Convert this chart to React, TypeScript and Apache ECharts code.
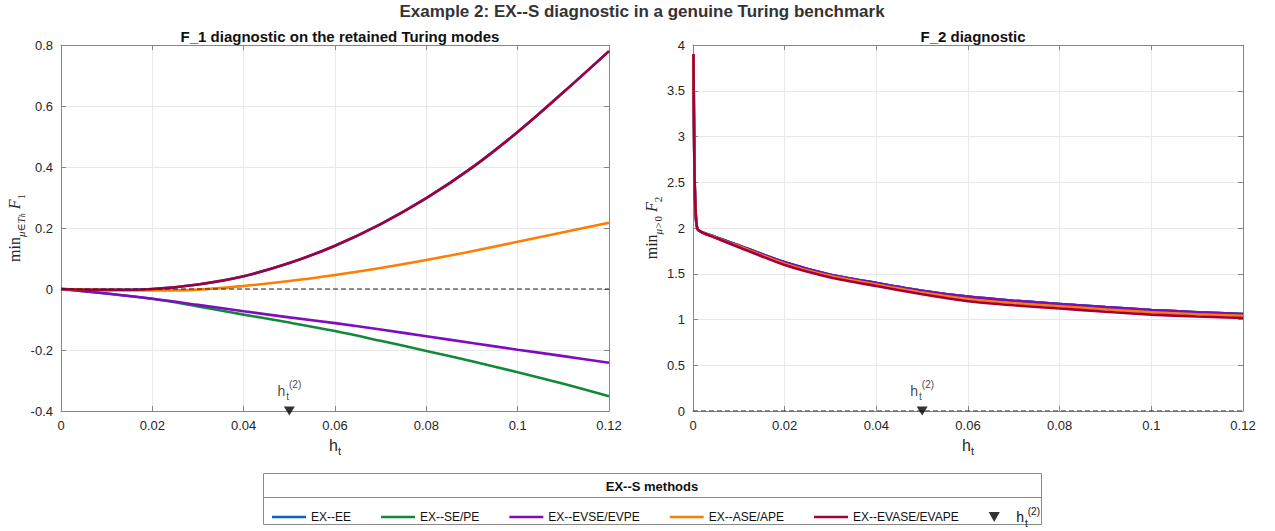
import React, { useEffect, useRef } from 'react';
import * as echarts from 'echarts';

// ---------- data ----------
const methodNames = ['EX--EE', 'EX--SE/PE', 'EX--EVSE/EVPE', 'EX--ASE/APE', 'EX--EVASE/EVAPE'];
const methodColors = ['#0a5fd6', '#12893a', '#7e0cc0', '#ff7d00', '#a2003c'];

const hLeft = [0, 0.01, 0.02, 0.03, 0.04, 0.05, 0.06, 0.07, 0.08, 0.09, 0.1, 0.11, 0.12];
const f1EE = [0, -0.003, 0.0, 0.015, 0.042, 0.085, 0.142, 0.213, 0.298, 0.398, 0.515, 0.645, 0.78];
const f1SE = [0, -0.015, -0.032, -0.057, -0.084, -0.11, -0.138, -0.17, -0.203, -0.237, -0.273, -0.311, -0.352];
const f1EVSE = [0, -0.015, -0.032, -0.052, -0.073, -0.093, -0.112, -0.133, -0.155, -0.177, -0.199, -0.22, -0.242];
const f1ASE = [0, -0.003, -0.005, -0.002, 0.01, 0.026, 0.046, 0.069, 0.095, 0.124, 0.155, 0.186, 0.217];
const f1EVASE = [0, -0.003, 0.0, 0.015, 0.042, 0.085, 0.142, 0.213, 0.298, 0.398, 0.515, 0.645, 0.78];

const hRight = [0.0001, 0.0003, 0.0006, 0.0011, 0.005, 0.01, 0.02, 0.03, 0.04, 0.05, 0.06, 0.07, 0.08, 0.09, 0.1, 0.11, 0.12];
const f2EE = [3.9, 2.7, 2.15, 1.98, 1.9, 1.81, 1.625, 1.49, 1.4, 1.315, 1.25, 1.205, 1.17, 1.135, 1.104, 1.08, 1.06];
const f2SE = [3.9, 2.7, 2.15, 1.98, 1.9, 1.81, 1.625, 1.49, 1.4, 1.315, 1.25, 1.205, 1.17, 1.135, 1.104, 1.08, 1.06];
const f2EVSE = [3.9, 2.7, 2.15, 1.98, 1.9, 1.81, 1.625, 1.49, 1.4, 1.315, 1.25, 1.205, 1.17, 1.135, 1.104, 1.08, 1.06];
const f2ASE = [3.9, 2.7, 2.15, 1.98, 1.895, 1.8, 1.61, 1.475, 1.383, 1.295, 1.224, 1.178, 1.144, 1.11, 1.08, 1.058, 1.04];
const f2EVASE = [3.9, 2.7, 2.15, 1.98, 1.89, 1.79, 1.595, 1.46, 1.366, 1.275, 1.2, 1.155, 1.12, 1.085, 1.053, 1.032, 1.016];

const zeroLineX = [0, 0.12];
const markerH = 0.05;
const markerName = 'ht2';

const leftSeries = [f1EE, f1SE, f1EVSE, f1ASE, f1EVASE];
const rightSeries = [f2EE, f2SE, f2EVSE, f2ASE, f2EVASE];

const FONT = 'Liberation Sans, Arial, Helvetica, sans-serif';
const SERIF = 'Liberation Serif, DejaVu Serif, serif';
const AXIS_COLOR = '#868686';
const GRID_COLOR = '#e8e8e8';
const TEXT_COLOR = '#262626';

const fmt = (v: number) => String(Math.round(v * 1000) / 1000);

const hRich = {
  h: { fontSize: 14, fontFamily: FONT, color: '#111', verticalAlign: 'middle', lineHeight: 22 },
  sub: { fontSize: 10, fontFamily: FONT, color: '#111', verticalAlign: 'bottom', lineHeight: 22, padding: [0, 0, 0, 1] },
  sup: { fontSize: 10, fontFamily: FONT, color: '#111', verticalAlign: 'top', lineHeight: 22 },
};
const hLabel = '{h|h}{sub|t}{sup|(2)}';

function pairs(xs: number[], ys: number[]) {
  return xs.map((x, i) => [x, ys[i]]);
}

function xAxes(gridIndex: number) {
  return [
    {
      type: 'value', gridIndex, min: 0, max: 0.12, interval: 0.02, position: 'bottom',
      name: '{h|h}{t|t}', nameLocation: 'middle', nameGap: 23,
      nameTextStyle: {
        rich: {
          h: { fontSize: 16, fontFamily: FONT, color: TEXT_COLOR, verticalAlign: 'middle', lineHeight: 22 },
          t: { fontSize: 11, fontFamily: FONT, color: TEXT_COLOR, verticalAlign: 'bottom', lineHeight: 22 },
        },
      },
      axisLine: { show: true, onZero: false, lineStyle: { color: AXIS_COLOR } },
      axisTick: { show: true, inside: true, length: 5, lineStyle: { color: AXIS_COLOR } },
      axisLabel: { fontSize: 13, fontFamily: FONT, color: TEXT_COLOR, margin: 8, formatter: fmt },
      splitLine: { show: true, lineStyle: { color: GRID_COLOR } },
    },
    {
      type: 'value', gridIndex, min: 0, max: 0.12, interval: 0.02, position: 'top',
      axisLine: { show: true, onZero: false, lineStyle: { color: AXIS_COLOR } },
      axisTick: { show: true, inside: true, length: 5, lineStyle: { color: AXIS_COLOR } },
      axisLabel: { show: false },
      splitLine: { show: false },
    },
  ];
}

function yAxes(gridIndex: number, min: number, max: number, interval: number, name: string, rich: any, nameGap: number) {
  return [
    {
      type: 'value', gridIndex, min, max, interval, position: 'left',
      name, nameLocation: 'middle', nameRotate: 90, nameGap,
      nameTextStyle: { rich },
      axisLine: { show: true, onZero: false, lineStyle: { color: AXIS_COLOR } },
      axisTick: { show: true, inside: true, length: 5, lineStyle: { color: AXIS_COLOR } },
      axisLabel: { fontSize: 13, fontFamily: FONT, color: TEXT_COLOR, margin: 8, formatter: fmt },
      splitLine: { show: true, lineStyle: { color: GRID_COLOR } },
    },
    {
      type: 'value', gridIndex, min, max, interval, position: 'right',
      axisLine: { show: true, onZero: false, lineStyle: { color: AXIS_COLOR } },
      axisTick: { show: true, inside: true, length: 5, lineStyle: { color: AXIS_COLOR } },
      axisLabel: { show: false },
      splitLine: { show: false },
    },
  ];
}

const mathRich = {
  m: { fontSize: 16, fontFamily: SERIF, color: TEXT_COLOR, verticalAlign: 'middle', lineHeight: 24 },
  s: { fontSize: 11, fontFamily: SERIF, fontStyle: 'italic', color: TEXT_COLOR, verticalAlign: 'bottom', lineHeight: 24 },
  ss: { fontSize: 8, fontFamily: SERIF, fontStyle: 'italic', color: TEXT_COLOR, verticalAlign: 'bottom', lineHeight: 22 },
  sn: { fontSize: 11, fontFamily: SERIF, color: TEXT_COLOR, verticalAlign: 'bottom', lineHeight: 24 },
  f: { fontSize: 16, fontFamily: SERIF, fontStyle: 'italic', color: TEXT_COLOR, verticalAlign: 'middle', lineHeight: 24, padding: [0, 0, 0, 4] },
};

const LINE_ICON = 'path://M0,0L40,0L40,3L0,3Z';
const TRI_ICON = 'path://M0,0L10,0L5,9Z';

function buildOption() {
  const series: any[] = [];
  const grids = [
    { xs: hLeft, ys: leftSeries, markerY: -0.4, smooth: 0.35 },
    { xs: hRight, ys: rightSeries, markerY: 0, smooth: 0.2 },
  ];
  grids.forEach((g, gi) => {
    g.ys.forEach((vals, i) => {
      series.push({
        type: 'line', name: methodNames[i], xAxisIndex: gi * 2, yAxisIndex: gi * 2,
        data: pairs(g.xs, vals), symbol: 'none', showSymbol: false,
        smooth: g.smooth,
        lineStyle: { width: 2.6, color: methodColors[i] }, itemStyle: { color: methodColors[i] },
        z: 2 + i,
      });
    });
    series.push({
      type: 'line', name: 'zero', xAxisIndex: gi * 2, yAxisIndex: gi * 2,
      data: zeroLineX.map((x) => [x, 0]), symbol: 'none', silent: true,
      lineStyle: { width: 1, color: '#222', type: [5, 3] }, z: 9,
    });
    series.push({
      type: 'scatter', name: markerName, xAxisIndex: gi * 2, yAxisIndex: gi * 2,
      data: [[markerH, g.markerY]], symbol: 'triangle', symbolRotate: 180, symbolSize: [11, 9],
      itemStyle: { color: '#000' }, clip: false, z: 10,
      label: { show: true, position: 'top', distance: 5, formatter: hLabel, rich: hRich },
    });
  });

  return {
    animation: false,
    backgroundColor: '#fff',
    title: [
      {
        text: 'Example 2: EX--S diagnostic in a genuine Turing benchmark', left: 637, textAlign: 'center', top: -2,
        textStyle: { fontSize: 17, fontWeight: 'bold', fontFamily: FONT, color: '#333' },
      },
      {
        text: 'F_1 diagnostic on the retained Turing modes', left: 335, textAlign: 'center', top: 24,
        textStyle: { fontSize: 15, fontWeight: 'bold', fontFamily: FONT, color: '#111' },
      },
      {
        text: 'F_2 diagnostic', left: 968, textAlign: 'center', top: 24,
        textStyle: { fontSize: 15, fontWeight: 'bold', fontFamily: FONT, color: '#111' },
      },
    ],
    grid: [
      { left: 61, top: 45, width: 548, height: 366 },
      { left: 693, top: 45, width: 550, height: 366 },
    ],
    xAxis: [...xAxes(0), ...xAxes(1)],
    yAxis: [
      ...yAxes(0, -0.4, 0.8, 0.2, '{m|min}{s|μ∈T}{ss|h}{f|F}{sn|1}', mathRich, 32),
      ...yAxes(1, 0, 4, 0.5, '{m|min}{s|μ>}{sn|0}{f|F}{sn|2}', mathRich, 28),
    ],
    legend: {
      left: 267, top: 501, itemWidth: 34, itemHeight: 10, itemGap: 30,
      selectedMode: false,
      textStyle: { fontSize: 12, fontFamily: FONT, color: '#111', rich: hRich },
      data: [
        ...methodNames.map((n) => ({ name: n, icon: LINE_ICON })),
        { name: markerName, icon: TRI_ICON },
      ],
      formatter: (n: string) => (n === markerName ? hLabel : n),
    },
    graphic: [
      {
        type: 'rect', z: -1, silent: true,
        shape: { x: 263.5, y: 473.5, width: 778, height: 51 },
        style: { fill: '#fff', stroke: '#8a8a8a', lineWidth: 1 },
      },
      {
        type: 'line', z: -1, silent: true,
        shape: { x1: 263.5, y1: 497.5, x2: 1041.5, y2: 497.5 },
        style: { stroke: '#8a8a8a', lineWidth: 1 },
      },
      {
        type: 'text', z: 5, silent: true, x: 652, y: 486,
        style: { text: 'EX--S methods', font: 'bold 13px ' + FONT, fill: '#111', textAlign: 'center', textVerticalAlign: 'middle' },
      },
    ],
    series,
  };
}

export default function App() {
  const ref = useRef<HTMLDivElement>(null);
  useEffect(() => {
    if (!ref.current) return;
    const chart = echarts.init(ref.current, undefined, { renderer: 'svg' });
    chart.setOption(buildOption() as any);
    return () => chart.dispose();
  }, []);
  return (
    <div
      ref={ref}
      style={{ position: 'fixed', left: 0, top: 0, width: 1275, height: 531, background: '#fff' }}
    />
  );
}
